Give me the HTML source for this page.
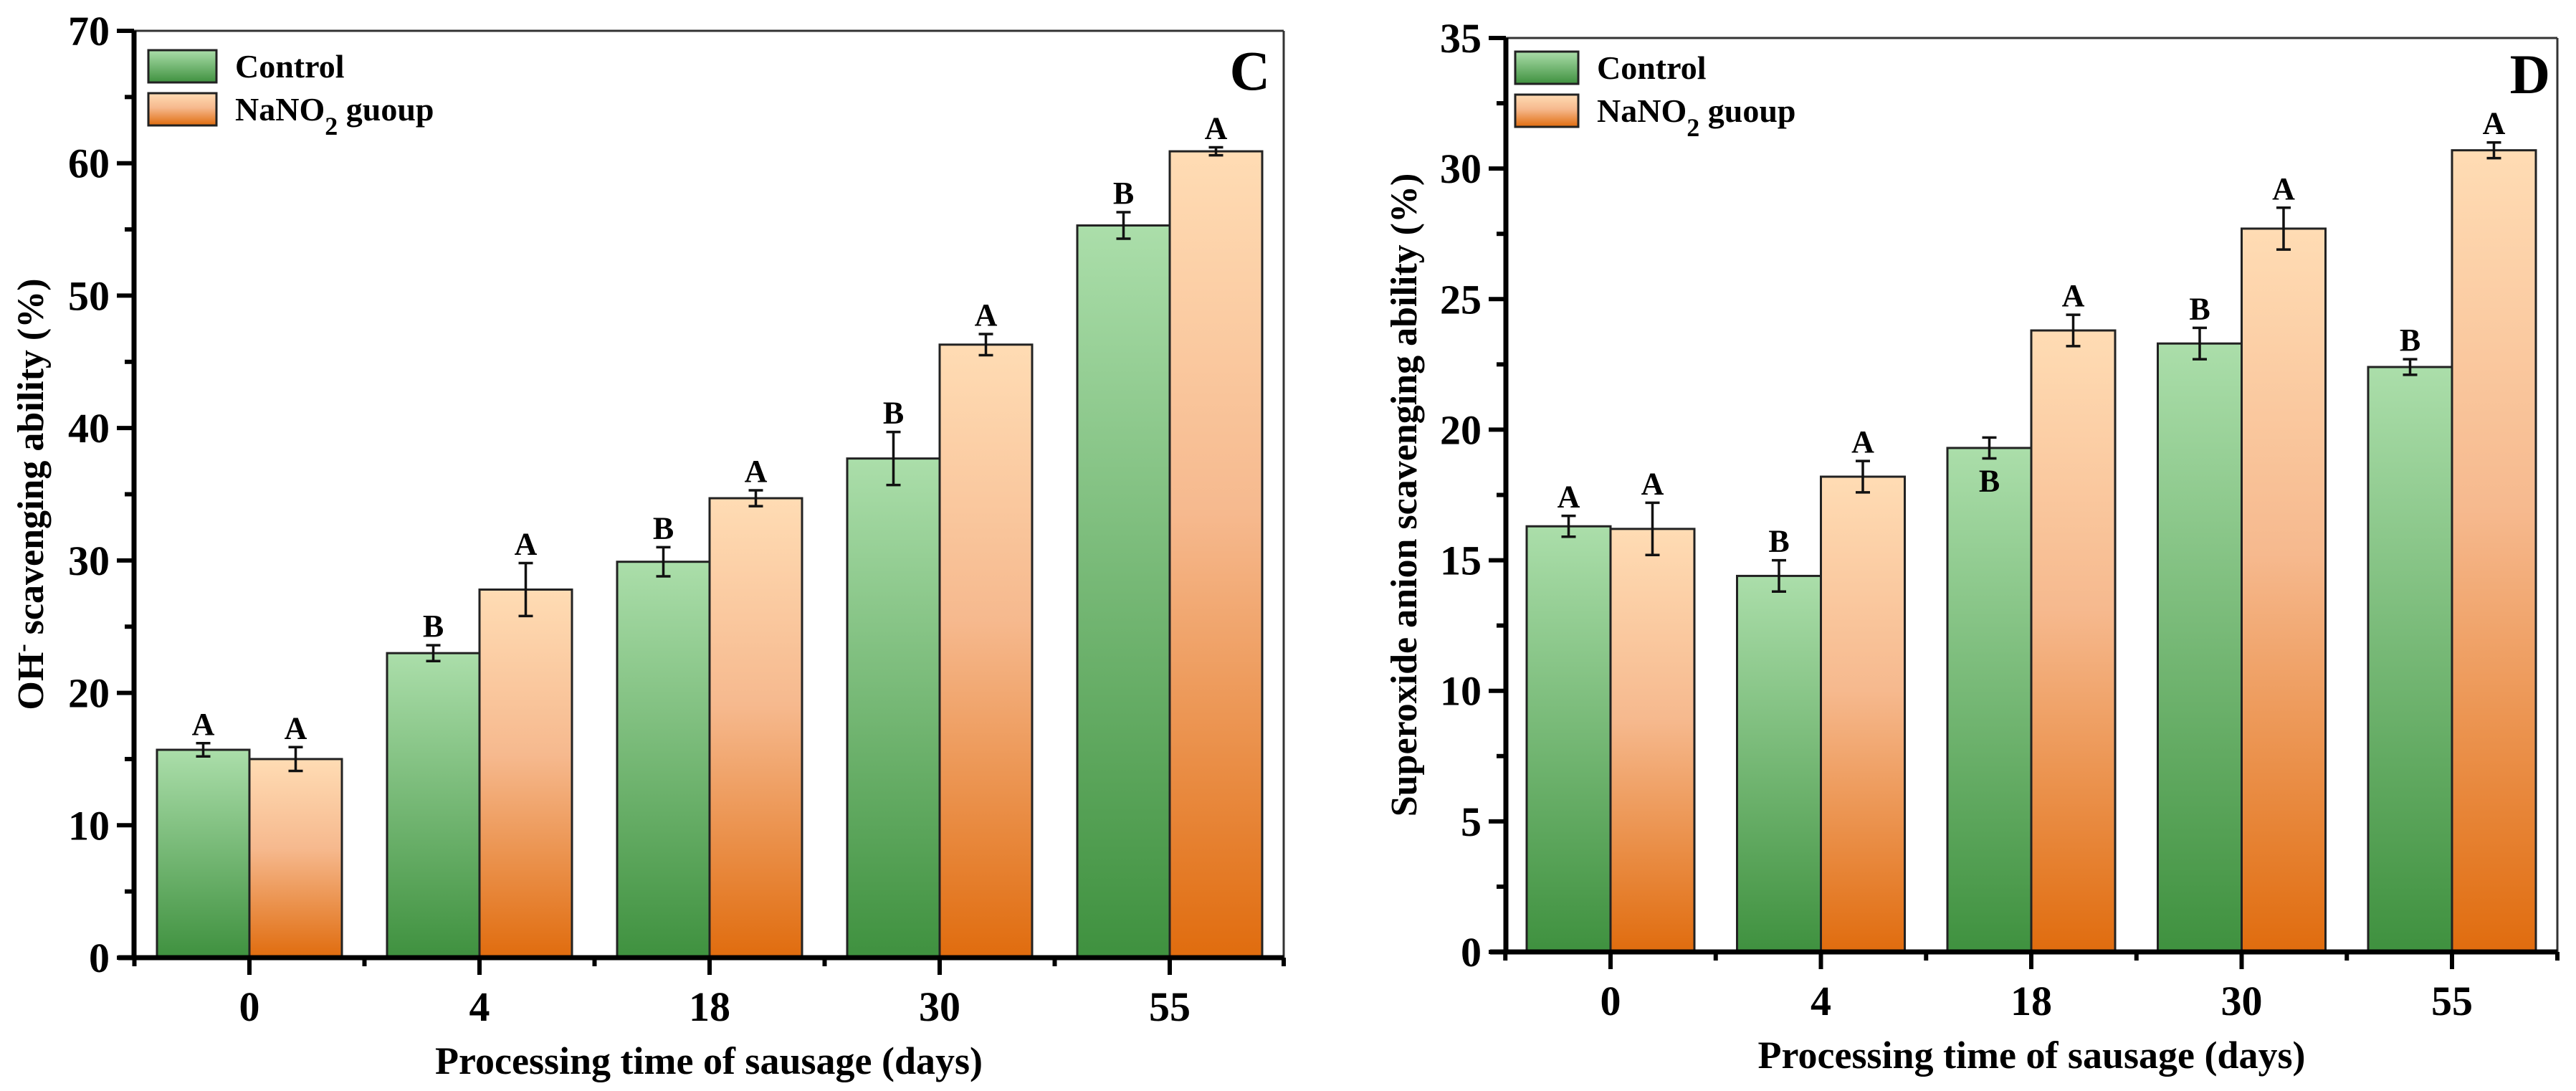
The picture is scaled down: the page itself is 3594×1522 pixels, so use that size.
<!DOCTYPE html>
<html><head><meta charset="utf-8"><style>
html,body{margin:0;padding:0;background:#fff}
svg{display:block}
text{font-family:"Liberation Serif",serif;font-weight:bold;fill:#000}
</style></head><body>
<svg id="fig" width="3594" height="1522" xmlns="http://www.w3.org/2000/svg">
<defs>
<linearGradient id="gG" x1="0" y1="0" x2="0" y2="1"><stop offset="0" stop-color="#abdeaa"/><stop offset="1" stop-color="#3f913f"/></linearGradient>
<linearGradient id="gO" x1="0" y1="0" x2="0" y2="1"><stop offset="0" stop-color="#ffdcb4"/><stop offset="0.45" stop-color="#f6b98e"/><stop offset="1" stop-color="#e06c0e"/></linearGradient>
</defs>
</svg>
<script>
const categories = ["0","4","18","30","55"];
const cControl = [15.7,23.0,29.9,37.7,55.3];
const cControlErr = [0.5,0.6,1.1,2.0,1.0];
const cNano = [15.0,27.8,34.7,46.3,60.9];
const cNanoErr = [0.9,2.0,0.6,0.8,0.3];
const cControlLetters = ["A","B","B","B","B"];
const cNanoLetters = ["A","A","A","A","A"];
const cTicks = [0,10,20,30,40,50,60,70];
const dControl = [16.3,14.4,19.3,23.3,22.4];
const dControlErr = [0.4,0.6,0.4,0.6,0.3];
const dNano = [16.2,18.2,23.8,27.7,30.7];
const dNanoErr = [1.0,0.6,0.6,0.8,0.3];
const dControlLetters = ["A","B","B","B","B"];
const dNanoLetters = ["A","A","A","A","A"];
const dTicks = [0,5,10,15,20,25,30,35];

const NS="http://www.w3.org/2000/svg";
const svg=document.getElementById('fig');
function el(tag,attrs,parent,txt){const e=document.createElementNS(NS,tag);for(const k in attrs)e.setAttribute(k,attrs[k]);if(txt!==undefined)e.textContent=txt;(parent||svg).appendChild(e);return e;}

function panel(cfg){
  const g=el('g',{});
  
  
  const {L,R,T,B,ymax,c0,pitch,bw}=cfg;
  const y=v=>B-(v/ymax)*(B-T);
  const x=i=>c0+i*pitch;
  // frame
  const top=el('line',{x1:L,y1:T,x2:R,y2:T,stroke:'#333','stroke-width':3},g);
  
  const rt=el('line',{x1:R,y1:T,x2:R,y2:B,stroke:'#333','stroke-width':3},g);
  
  // bars
  for(let i=0;i<categories.length;i++){
    const series=[[cfg.ctrl,cfg.ctrlErr,cfg.ctrlL,'url(#gG)',x(i)-bw,'control'],[cfg.nano,cfg.nanoErr,cfg.nanoL,'url(#gO)',x(i),'nano']];
    series.forEach(s=>{
      const v=s[0][i],e=s[1][i];
      const r=el('rect',{x:s[4],y:y(v),width:bw,height:B-y(v),fill:s[3],stroke:'#222','stroke-width':3},g);
      
      
      const cx=s[4]+bw/2;
      const eb=el('path',{d:`M${cx},${y(v+e)}V${y(v-e)}M${cx-10},${y(v+e)}H${cx+10}M${cx-10},${y(v-e)}H${cx+10}`,stroke:'#111','stroke-width':3.5,fill:'none'},g);
      
      
      let ly=y(v+e)-12;
      if(cfg.below && cfg.below[s[5]+i]) ly=y(v-e)+46;
      const lt=el('text',{x:cx,y:ly,'text-anchor':'middle','font-size':44},g,s[2][i]);
      
      
    });
  }
  // axes
  const ax=el('path',{d:`M${L},${T}V${B}M${L-22},${B}H${R}`,stroke:'#000','stroke-width':7,fill:'none'},g);
  
  // y ticks
  const step=cfg.ticks[1]-cfg.ticks[0];
  cfg.ticks.forEach((t,k)=>{
    el('line',{x1:L-24,y1:y(t),x2:L,y2:y(t),stroke:'#000','stroke-width':6},g);
    if(k<cfg.ticks.length-1) el('line',{x1:L-13,y1:y(t+step/2),x2:L,y2:y(t+step/2),stroke:'#000','stroke-width':6},g);
    const tl=el('text',{x:L-34,y:y(t)+20,'text-anchor':'end','font-size':58},g,t);
    
  });
  // x ticks
  categories.forEach((c,i)=>{
    el('line',{x1:x(i),y1:B,x2:x(i),y2:B+24,stroke:'#000','stroke-width':6},g);
    el('line',{x1:x(i)-pitch/2,y1:B,x2:x(i)-pitch/2,y2:B+12,stroke:'#000','stroke-width':6},g);
    const tl=el('text',{x:x(i),y:B+88,'text-anchor':'middle','font-size':58},g,c);
    
  });
  el('line',{x1:R,y1:B,x2:R,y2:B+12,stroke:'#000','stroke-width':6},g);
  const xt=el('text',{x:(L+R)/2,y:B+162,'text-anchor':'middle','font-size':54},g,'Processing time of sausage (days)');
  
  const yt=el('text',{x:0,y:0,'text-anchor':'middle','font-size':52,transform:`translate(${cfg.ytx},${(T+B)/2}) rotate(-90)`},g);
  
  yt.innerHTML=cfg.ytitle;
  // legend
  const lx=cfg.legX;
  [['url(#gG)','Control',70],['url(#gO)','NaNO<tspan baseline-shift="sub" font-size="36">2</tspan> guoup',130]].forEach((it,k)=>{
    const r=el('rect',{x:lx,y:it[2]+(cfg.legDy||0),width:cfg.legW,height:45,fill:it[0],stroke:'#222','stroke-width':3},g);
    
    const t=el('text',{x:lx+cfg.legW+26,y:it[2]+38+(cfg.legDy||0),'font-size':46},g);
    t.innerHTML=it[1];
    
  });
  const pl=el('text',{x:cfg.letterX,y:cfg.letterY,'text-anchor':'end','font-size':78},g,cfg.letter);
  
}

panel({name:'chart-c',L:187,R:1791,T:43,B:1336,ymax:70,c0:348,pitch:321,bw:129,
  ctrl:cControl,ctrlErr:cControlErr,nano:cNano,nanoErr:cNanoErr,ctrlL:cControlLetters,nanoL:cNanoLetters,
  ticks:cTicks,ytx:60,ytitle:'OH<tspan baseline-shift="super" font-size="34">-</tspan> scavenging ability (%)',
  legX:207,legW:95,letter:'C',letterX:1772,letterY:125});
panel({name:'chart-d',L:2101,R:3568,T:53,B:1328,ymax:35,c0:2247,pitch:293.5,bw:117,
  ctrl:dControl,ctrlErr:dControlErr,nano:dNano,nanoErr:dNanoErr,ctrlL:dControlLetters,nanoL:dNanoLetters,
  ticks:dTicks,ytx:1976,ytitle:'Superoxide anion scavenging ability (%)',
  legX:2114,legW:88,legDy:2,letter:'D',letterX:3558,letterY:130,below:{control2:true}});
</script>
</body></html>
